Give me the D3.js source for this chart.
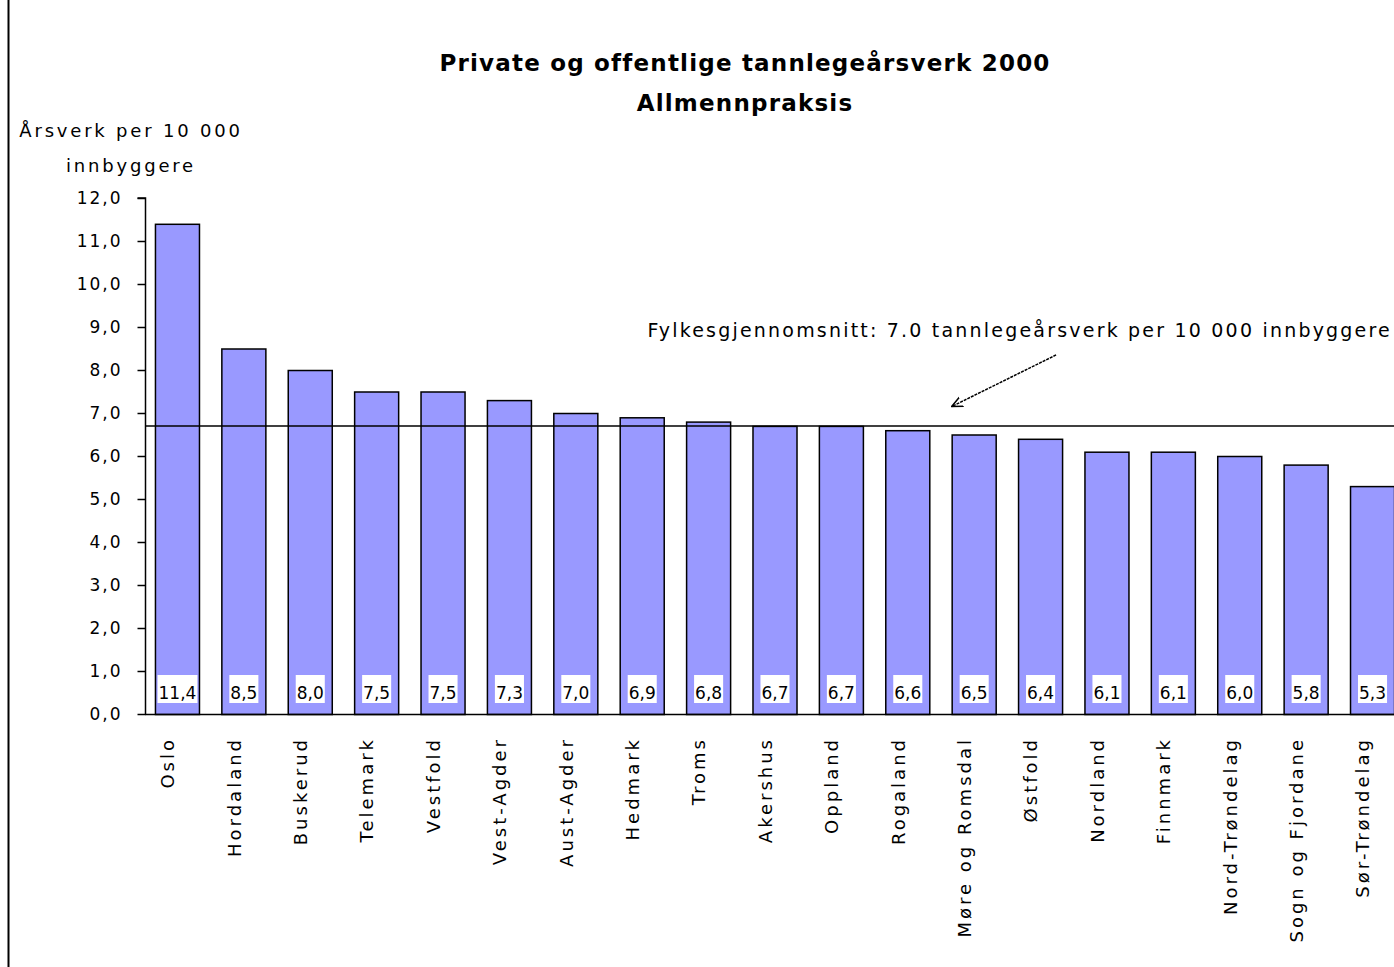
<!DOCTYPE html>
<html><head><meta charset="utf-8">
<script src="https://cdn.jsdelivr.net/npm/d3@7"></script>
<style>
html,body{margin:0;padding:0;background:#fff;overflow:hidden}
svg{display:block;font-family:"DejaVu Sans","Liberation Sans",Arial,sans-serif}
</style></head>
<body>
<svg id="c" width="1394" height="967"></svg>
<script>
const categories = ["Oslo","Hordaland","Buskerud","Telemark","Vestfold","Vest-Agder","Aust-Agder","Hedmark","Troms","Akershus","Oppland","Rogaland","Møre og Romsdal","Østfold","Nordland","Finnmark","Nord-Trøndelag","Sogn og Fjordane","Sør-Trøndelag"];
const values = [11.4,8.5,8.0,7.5,7.5,7.3,7.0,6.9,6.8,6.7,6.7,6.6,6.5,6.4,6.1,6.1,6.0,5.8,5.3];
const yTicks = [0,1,2,3,4,5,6,7,8,9,10,11,12];
const averageValue = 6.7;
const titleLines = ["Private og offentlige tannlegeårsverk 2000","Allmennpraksis"];
const yLabelLines = ["Årsverk per 10 000","innbyggere"];
const annotationText = "Fylkesgjennomsnitt:  7.0 tannlegeårsverk per 10 000 innbyggere";

const svg = d3.select("#c");
const fmt = v => d3.format(".1f")(v).replace(".", ",");

const x = d3.scaleBand().domain(categories).range([145, 1404]).paddingInner(0.337).paddingOuter(0.15);
const y = d3.scaleLinear().domain([0,12]).range([714,198]);

// left frame line
svg.append("line").attr("x1",8.5).attr("x2",8.5).attr("y1",0).attr("y2",967).attr("stroke","#000").attr("stroke-width",2);

// title
svg.append("g").selectAll("text").data(titleLines).join("text")
  .attr("x",745).attr("y",(d,i)=>71+i*40).attr("text-anchor","middle")
  .attr("font-weight","bold").attr("font-size",23).attr("letter-spacing",1.2).attr("fill","#000").text(d=>d);

// y label
svg.append("g").selectAll("text").data(yLabelLines).join("text")
  .attr("x",131).attr("y",(d,i)=>137+i*35).attr("text-anchor","middle")
  .attr("font-size",18).attr("letter-spacing",2.8).attr("fill","#000").text(d=>d);

// bars
svg.append("g").selectAll("rect").data(values).join("rect")
  .attr("x",(d,i)=>x(categories[i])+0.5).attr("y",d=>y(d)+0.5)
  .attr("width",x.bandwidth()).attr("height",d=>y(0)-y(d))
  .attr("fill","#9999ff").attr("stroke","#000").attr("stroke-width",1.5);

// average line
svg.append("line").attr("x1",145).attr("x2",1394).attr("y1",y(averageValue)).attr("y2",y(averageValue))
  .attr("stroke","#000").attr("stroke-width",1.5);

// value labels
const lg = svg.append("g");
values.forEach((v,i)=>{
  const cx = x(categories[i]) + x.bandwidth()/2 + 0.5;
  const g = lg.append("g");
  const r = g.append("rect").attr("fill","#fff");
  const t = g.append("text").attr("x",cx).attr("y",y(0)-15).attr("text-anchor","middle")
    .attr("font-size",17).attr("fill","#000").text(fmt(v));
  const b = t.node().getBBox();
  r.attr("x",b.x-1).attr("y",y(0)-39).attr("width",b.width+2).attr("height",28);
});

// y axis
const ya = svg.append("g").attr("transform","translate(145.5,0)")
  .call(d3.axisLeft(y).tickValues(yTicks).tickSize(8).tickPadding(15).tickFormat(fmt));
ya.selectAll("path,line").attr("stroke","#000").attr("stroke-width",1.5);
ya.select(".domain").attr("d",`M-8,${y(12)}H0V${y(0)}`);
ya.selectAll("text").attr("font-size",17).attr("letter-spacing",2).attr("fill","#000").attr("font-family","DejaVu Sans, sans-serif");

// x axis line
svg.append("line").attr("x1",145).attr("x2",1394).attr("y1",y(0)+0.5).attr("y2",y(0)+0.5).attr("stroke","#000").attr("stroke-width",1.5);

// x labels
svg.append("g").selectAll("text").data(categories).join("text")
  .attr("transform",d=>`translate(${x(d)+x.bandwidth()/2-9},${737}) rotate(-90)`)
  .attr("text-anchor","end").attr("dy","0.35em")
  .attr("font-size",18).attr("letter-spacing",3).attr("fill","#000").text(d=>d);

// annotation
svg.append("text").attr("x",1392).attr("y",337).attr("text-anchor","end")
  .attr("font-size",19).attr("letter-spacing",2.2).attr("fill","#000").text(annotationText);

const defs = svg.append("defs");
defs.append("marker").attr("id","ah").attr("viewBox","0 0 12 12").attr("refX",11).attr("refY",6)
  .attr("markerWidth",12).attr("markerHeight",12).attr("markerUnits","userSpaceOnUse").attr("orient","auto")
  .append("path").attr("d","M0,1 L11,6 L0,11").attr("fill","none").attr("stroke","#000").attr("stroke-width",1.5);
const tipCat = categories[12], startCat = categories[13];
svg.append("line")
  .attr("x1",x(startCat)+x.bandwidth()/2+16).attr("y1",y(8.35))
  .attr("x2",x(tipCat)).attr("y2",y(7.15))
  .attr("stroke","#000").attr("stroke-width",1.5).attr("stroke-dasharray","3,1")
  .attr("marker-end","url(#ah)");
</script>
</body></html>
